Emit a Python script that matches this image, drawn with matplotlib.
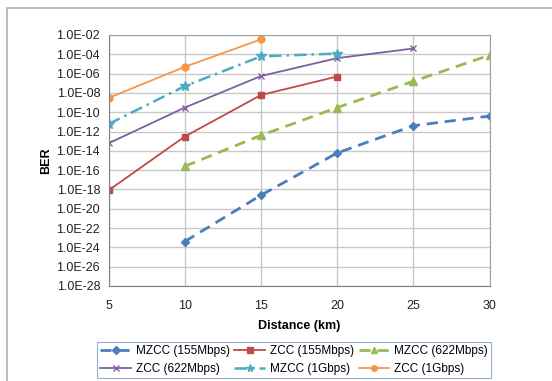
import math
import matplotlib.pyplot as plt
from matplotlib.patches import Rectangle
from matplotlib.ticker import FixedLocator, FuncFormatter

plt.rcParams['font.family'] = ['Liberation Sans', 'DejaVu Sans']

# distances (km)
dist = [5, 10, 15, 20, 25, 30]

# BER values
mzcc_155 = [None, 4e-24, 2.5e-19, 6e-15, 4e-12, 4e-11]
zcc_155 = [8e-19, 3e-13, 6e-9, 5e-7, None, None]
mzcc_622 = [None, 2.5e-16, 4e-13, 3e-10, 1.6e-7, 8e-5]
zcc_622 = [6e-14, 3e-10, 5.6e-7, 4e-5, 4e-4, None]
mzcc_1g = [6e-12, 5e-8, 6e-5, 1.2e-4, None, None]
zcc_1g = [3e-9, 5e-6, 3.5e-3, None, None, None]

labels = ["MZCC (155Mbps)", "ZCC (155Mbps)", "MZCC (622Mbps)",
          "ZCC (622Mbps)", "MZCC (1Gbps)", "ZCC (1Gbps)"]
series = [mzcc_155, zcc_155, mzcc_622, zcc_622, mzcc_1g, zcc_1g]
colors = ["#4A7EBB", "#BE4B48", "#98B954", "#7D60A0", "#4BACC6", "#F79646"]
markers = ["D", "s", "^", "x", "*", "o"]
msizes = [4.5, 5, 6, 5, 7, 5]
styles = [(0, (4, 2.5)), "-", (0, (4, 2.5)), "-", (0, (5, 2, 1, 2)), "-"]
widths = [2.0, 1.3, 2.0, 1.3, 1.8, 1.3]

fig = plt.figure(figsize=(5.52, 3.81), dpi=100)
fig.patches.append(Rectangle((7 / 552, -0.1), 1.2, 1.1 - 8 / 381,
                             transform=fig.transFigure, fill=False,
                             edgecolor="#b0b0b0", linewidth=1.2))
ax = fig.add_axes([108.5 / 552, 1 - 286 / 381, (489.5 - 108.5) / 552, (286 - 35) / 381])

handles = []
for vals, lab, c, m, ms, ls, lw in zip(series, labels, colors, markers, msizes, styles, widths):
    xs = [d for d, v in zip(dist, vals) if v is not None]
    ys = [v for v in vals if v is not None]
    h, = ax.plot(xs, ys, color=c, marker=m, markersize=ms, linestyle=ls, linewidth=lw,
                 markeredgewidth=1.0, label=lab)
    handles.append(h)

ax.set_yscale("log")
ax.set_ylim(1e-28, 1e-2)
ax.set_xlim(5, 30)
ax.set_xticks(dist)
ax.yaxis.set_major_locator(FixedLocator([10.0 ** e for e in range(-28, -1, 2)]))
ax.yaxis.set_minor_locator(FixedLocator([]))
ax.yaxis.set_major_formatter(FuncFormatter(lambda v, p: "1.0E-%02d" % round(-math.log10(v))))
ax.grid(True, color="#c8c8c8", linewidth=1.0)
ax.set_axisbelow(True)
for s in ax.spines.values():
    s.set_color("#a0a0a0")
ax.spines["left"].set_color("#808080")
ax.spines["bottom"].set_color("#808080")
ax.tick_params(length=0, labelsize=9, pad=6, colors="#222222")
ax.tick_params(axis="x", pad=10)
ax.set_ylabel("BER", fontsize=9, fontweight="bold", labelpad=3)
ax.set_xlabel("Distance (km)", fontsize=9, fontweight="bold", labelpad=6)

# legend fills column-wise, reorder so rows read like the original
order = [0, 3, 1, 4, 2, 5]
leg = fig.legend([handles[i] for i in order], [labels[i] for i in order],
                 loc="upper center", bbox_to_anchor=(294 / 552, 1 - 336 / 381), ncol=3,
                 fontsize=8.5, frameon=True, fancybox=False, handlelength=2.6,
                 columnspacing=0.4, handletextpad=0.4, borderpad=0.3, labelspacing=0.45,
                 markerscale=0.8)
leg.get_frame().set_edgecolor("#7a9cc6")
leg.get_frame().set_linewidth(0.8)

fig.savefig("out.png", dpi=100)
